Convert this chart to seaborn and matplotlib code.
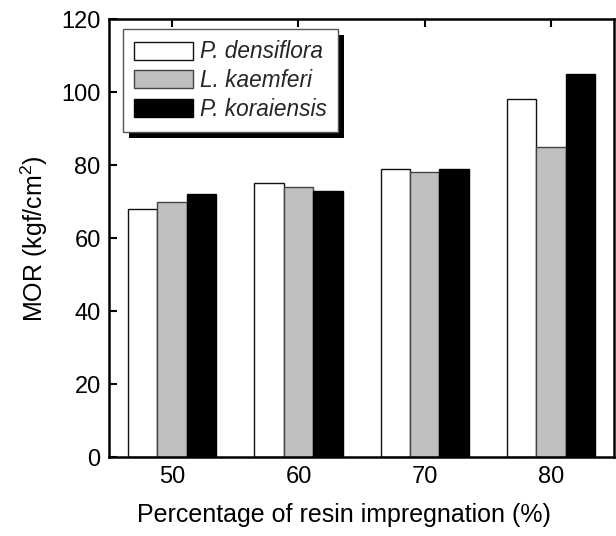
import matplotlib
matplotlib.use("Agg")
import matplotlib.pyplot as plt
from matplotlib.patches import Rectangle
import seaborn as sns
import pandas as pd

# Resin impregnation levels (%) and MOR values per species
impregnation = [50, 60, 70, 80]
species = ["P. densiflora", "L. kaemferi", "P. koraiensis"]
p_densiflora = [68, 75, 79, 98]
l_kaemferi = [70, 74, 78, 85]
p_koraiensis = [72, 73, 79, 105]
bar_colors = ["#ffffff", "#c0c0c0", "#000000"]
edge_colors = ["#111111", "#444444", "#000000"]

sns.set_theme(style="ticks")
plt.rcParams["font.family"] = ["Liberation Sans", "DejaVu Sans"]
plt.rcParams["mathtext.default"] = "regular"

df = pd.DataFrame({
    "impregnation": impregnation * 3,
    "species": [s for s in species for _ in impregnation],
    "MOR": p_densiflora + l_kaemferi + p_koraiensis,
})

fig = plt.figure(figsize=(6.16, 5.36), dpi=100)
ax = fig.add_axes([0.177, 0.147, 0.82, 0.8175])

sns.barplot(data=df, x="impregnation", y="MOR", hue="species",
            hue_order=species, palette=bar_colors, native_scale=True,
            width=0.7, linewidth=1.0, edgecolor="#222222", ax=ax,
            errorbar=None, saturation=1)

# per-series edge colours
for container, ec in zip(ax.containers, edge_colors):
    for bar in container:
        bar.set_edgecolor(ec)

ax.set_xlim(45, 85)
ax.set_ylim(0, 120)
ax.set_xticks(impregnation)
ax.set_yticks(range(0, 121, 20))
ax.tick_params(axis="both", direction="in", length=6, width=1.5,
               labelsize=17, color="black", labelcolor="black", pad=6)
ax.tick_params(axis="x", top=True)
for sp in ax.spines.values():
    sp.set_visible(True)
    sp.set_linewidth(1.8)
    sp.set_color("black")

ax.set_xlabel("Percentage of resin impregnation (%)", fontsize=18,
              color="black")
ax.xaxis.set_label_coords(0.465, -0.105)
ax.set_ylabel("MOR (kgf/cm$^{2}$)", fontsize=18, color="black", labelpad=8)

leg = ax.legend(loc="upper left", bbox_to_anchor=(0.028, 0.977),
                borderaxespad=0, fancybox=False, frameon=True,
                handlelength=2.6, handleheight=0.85, handletextpad=0.3,
                labelspacing=0.25, borderpad=0.5,
                prop={"style": "italic", "size": 16.3})
leg.get_frame().set_edgecolor("#555555")
leg.get_frame().set_linewidth(1.0)
leg.get_frame().set_alpha(1)
for h, ec in zip(leg.legend_handles, edge_colors):
    h.set_edgecolor(ec)
    h.set_linewidth(1.0)

# solid drop shadow behind the legend box
fig.canvas.draw()
bb = leg.get_window_extent()
off = 6
shadow = Rectangle((bb.x0 + off, bb.y0 - off), bb.width, bb.height,
                   transform=None, facecolor="black", edgecolor="none",
                   zorder=leg.get_zorder() - 0.1)
ax.add_artist(shadow)
shadow.set_clip_on(False)

fig.savefig("out.png", dpi=100)
